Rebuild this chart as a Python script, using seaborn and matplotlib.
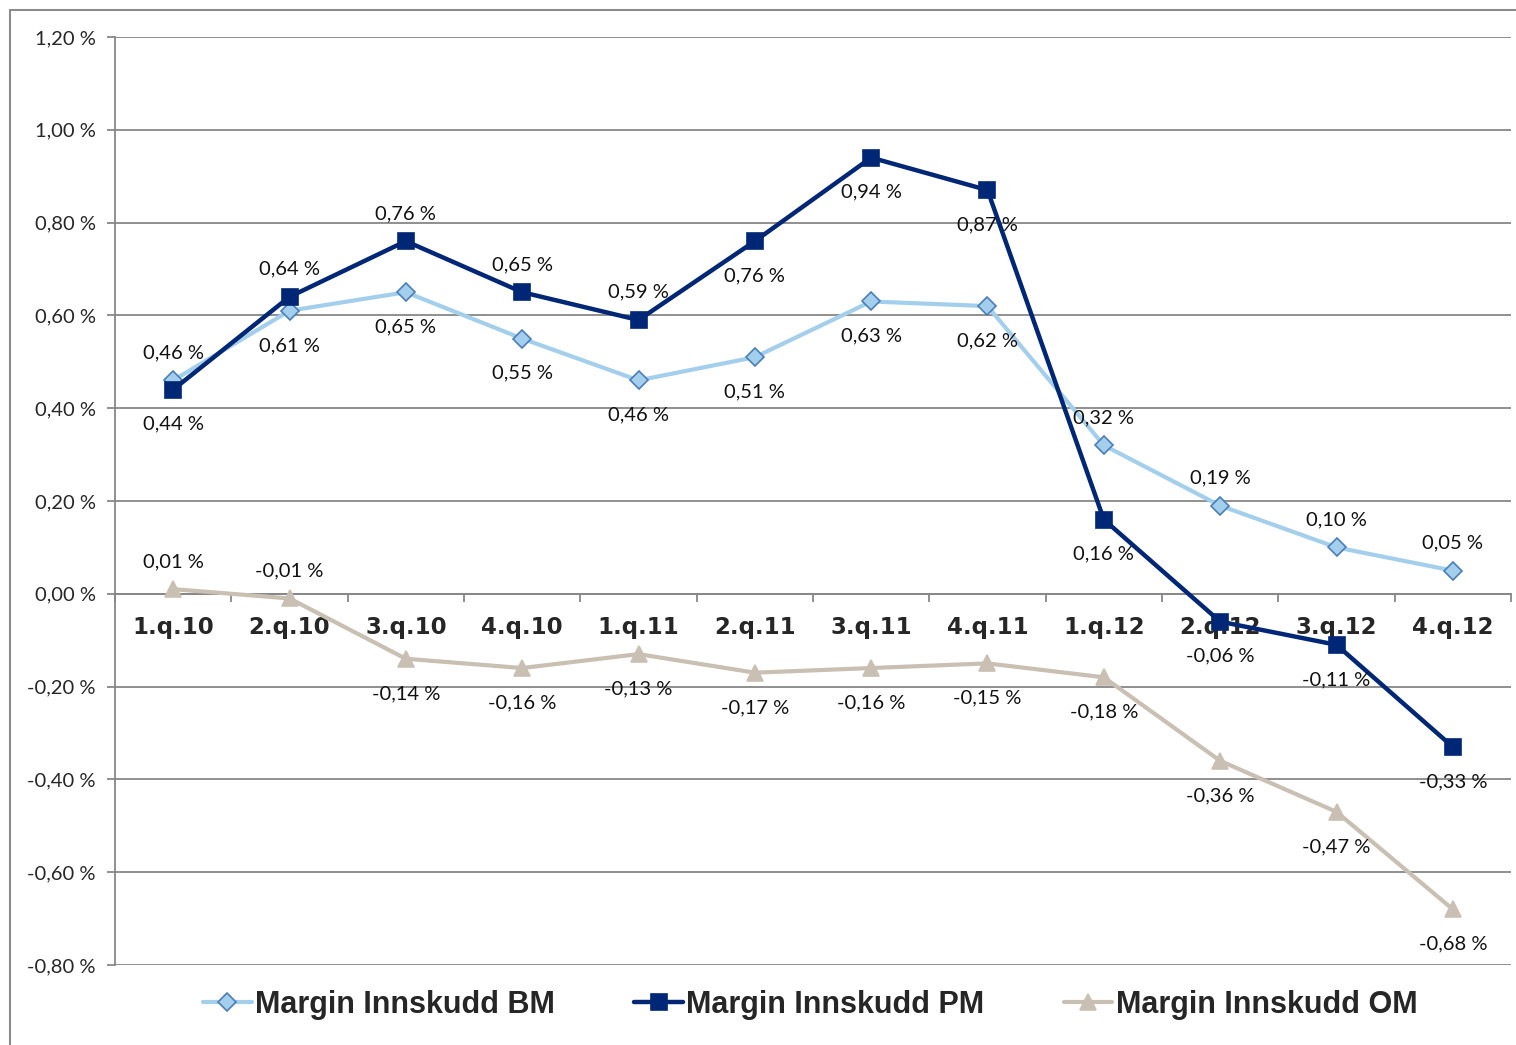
import numpy as np
import pandas as pd
import seaborn as sns
import matplotlib.pyplot as plt
from matplotlib.patches import Rectangle

quarters = ["1.q.10", "2.q.10", "3.q.10", "4.q.10", "1.q.11", "2.q.11",
            "3.q.11", "4.q.11", "1.q.12", "2.q.12", "3.q.12", "4.q.12"]
bm = [0.46, 0.61, 0.65, 0.55, 0.46, 0.51, 0.63, 0.62, 0.32, 0.19, 0.10, 0.05]
pm = [0.44, 0.64, 0.76, 0.65, 0.59, 0.76, 0.94, 0.87, 0.16, -0.06, -0.11, -0.33]
om = [0.01, -0.01, -0.14, -0.16, -0.13, -0.17, -0.16, -0.15, -0.18, -0.36, -0.47, -0.68]
y_ticks = [-0.8, -0.6, -0.4, -0.2, 0.0, 0.2, 0.4, 0.6, 0.8, 1.0, 1.2]

# label side per point: 1 = above, -1 = below
bm_side = [1, -1, -1, -1, -1, -1, -1, -1, 1, 1, 1, 1]
pm_side = [-1, 1, 1, 1, 1, -1, -1, -1, -1, -1, -1, -1]
om_side = [1, 1, -1, -1, -1, -1, -1, -1, -1, -1, -1, -1]

df = pd.DataFrame({"pos": np.arange(len(quarters)), "quarter": quarters,
                   "BM": bm, "PM": pm, "OM": om})

sns.set_style("white")
plt.rcParams["font.family"] = ["Lato", "DejaVu Sans"]

fig = plt.figure(figsize=(15.16, 10.45), dpi=100)
ax = fig.add_axes([115 / 1516, 1 - 965 / 1045, 1396 / 1516, 928 / 1045])

# outer chart frame
fig.patches.append(Rectangle((10 / 1516, -0.05), 1.2, 1 - 10 / 1045 + 0.05,
                             transform=fig.transFigure, fill=False,
                             edgecolor="#8c8c8c", linewidth=1.5))

# x axis sits on the zero line (set before ticks, since it resets them)
ax.spines["bottom"].set_position(("data", 0))
for s in ["bottom", "left"]:
    ax.spines[s].set_color("#878787")
    ax.spines[s].set_linewidth(1.3)
ax.spines["top"].set_visible(False)
ax.spines["right"].set_visible(False)

series = [
    ("BM", "Margin Innskudd BM", "#a3cfec", "D", 9, "#a3cfec", "#4a7ebb", 3.0, bm_side),
    ("PM", "Margin Innskudd PM", "#002776", "s", 12, "#002776", "#002776", 3.2, pm_side),
    ("OM", "Margin Innskudd OM", "#c9bfb3", "^", 12, "#c9bfb3", "#c9bfb3", 3.0, om_side),
]

for col, name, color, mk, ms, mfc, mec, lw, side in series:
    sns.lineplot(data=df, x="pos", y=col, ax=ax, color=color, linewidth=lw,
                 marker=mk, markersize=ms, markerfacecolor=mfc,
                 markeredgecolor=mec, markeredgewidth=1.2, label=name, zorder=3)
    for i, v in enumerate(df[col]):
        txt = f"{v:.2f}".replace(".", ",") + " %"
        off = 20 if side[i] > 0 else -25
        ax.annotate(txt, (i, v), xytext=(0, off), textcoords="offset points",
                    ha="center", va="center", fontsize=14.5, color="#111111", zorder=4)

ax.set_xlim(-0.5, len(quarters) - 0.5)
ax.set_ylim(-0.8, 1.2)
ax.set_yticks(y_ticks)
ax.set_yticklabels([f"{t:.2f}".replace(".", ",") + " %" for t in y_ticks], fontsize=14.5)
ax.yaxis.grid(True, color="#878787", linewidth=1.3)
ax.xaxis.grid(False)

ax.set_xticks(df["pos"])
ax.set_xticklabels(quarters, fontsize=16.5, fontweight="bold", family="DejaVu Sans")
ax.set_xticks(np.arange(-0.5, len(quarters)), minor=True)
ax.tick_params(axis="x", which="major", bottom=True, length=0, pad=16)
ax.tick_params(axis="x", which="minor", bottom=True, length=6, color="#878787",
               width=1.3, direction="out")
ax.tick_params(axis="y", left=True, length=6, color="#878787", width=1.3,
               direction="out", pad=8)
ax.set_xlabel("")
ax.set_ylabel("")

handles, labels = ax.get_legend_handles_labels()
ax.legend_.remove()
fig.legend(handles, labels, loc="center", bbox_to_anchor=(810 / 1516, 1 - 1005 / 1045),
           ncol=3, frameon=False, handlelength=1.6, handletextpad=0.1,
           columnspacing=2.6, prop={"family": "Liberation Sans", "weight": "bold", "size": 22})

fig.savefig("out.png", dpi=100)
